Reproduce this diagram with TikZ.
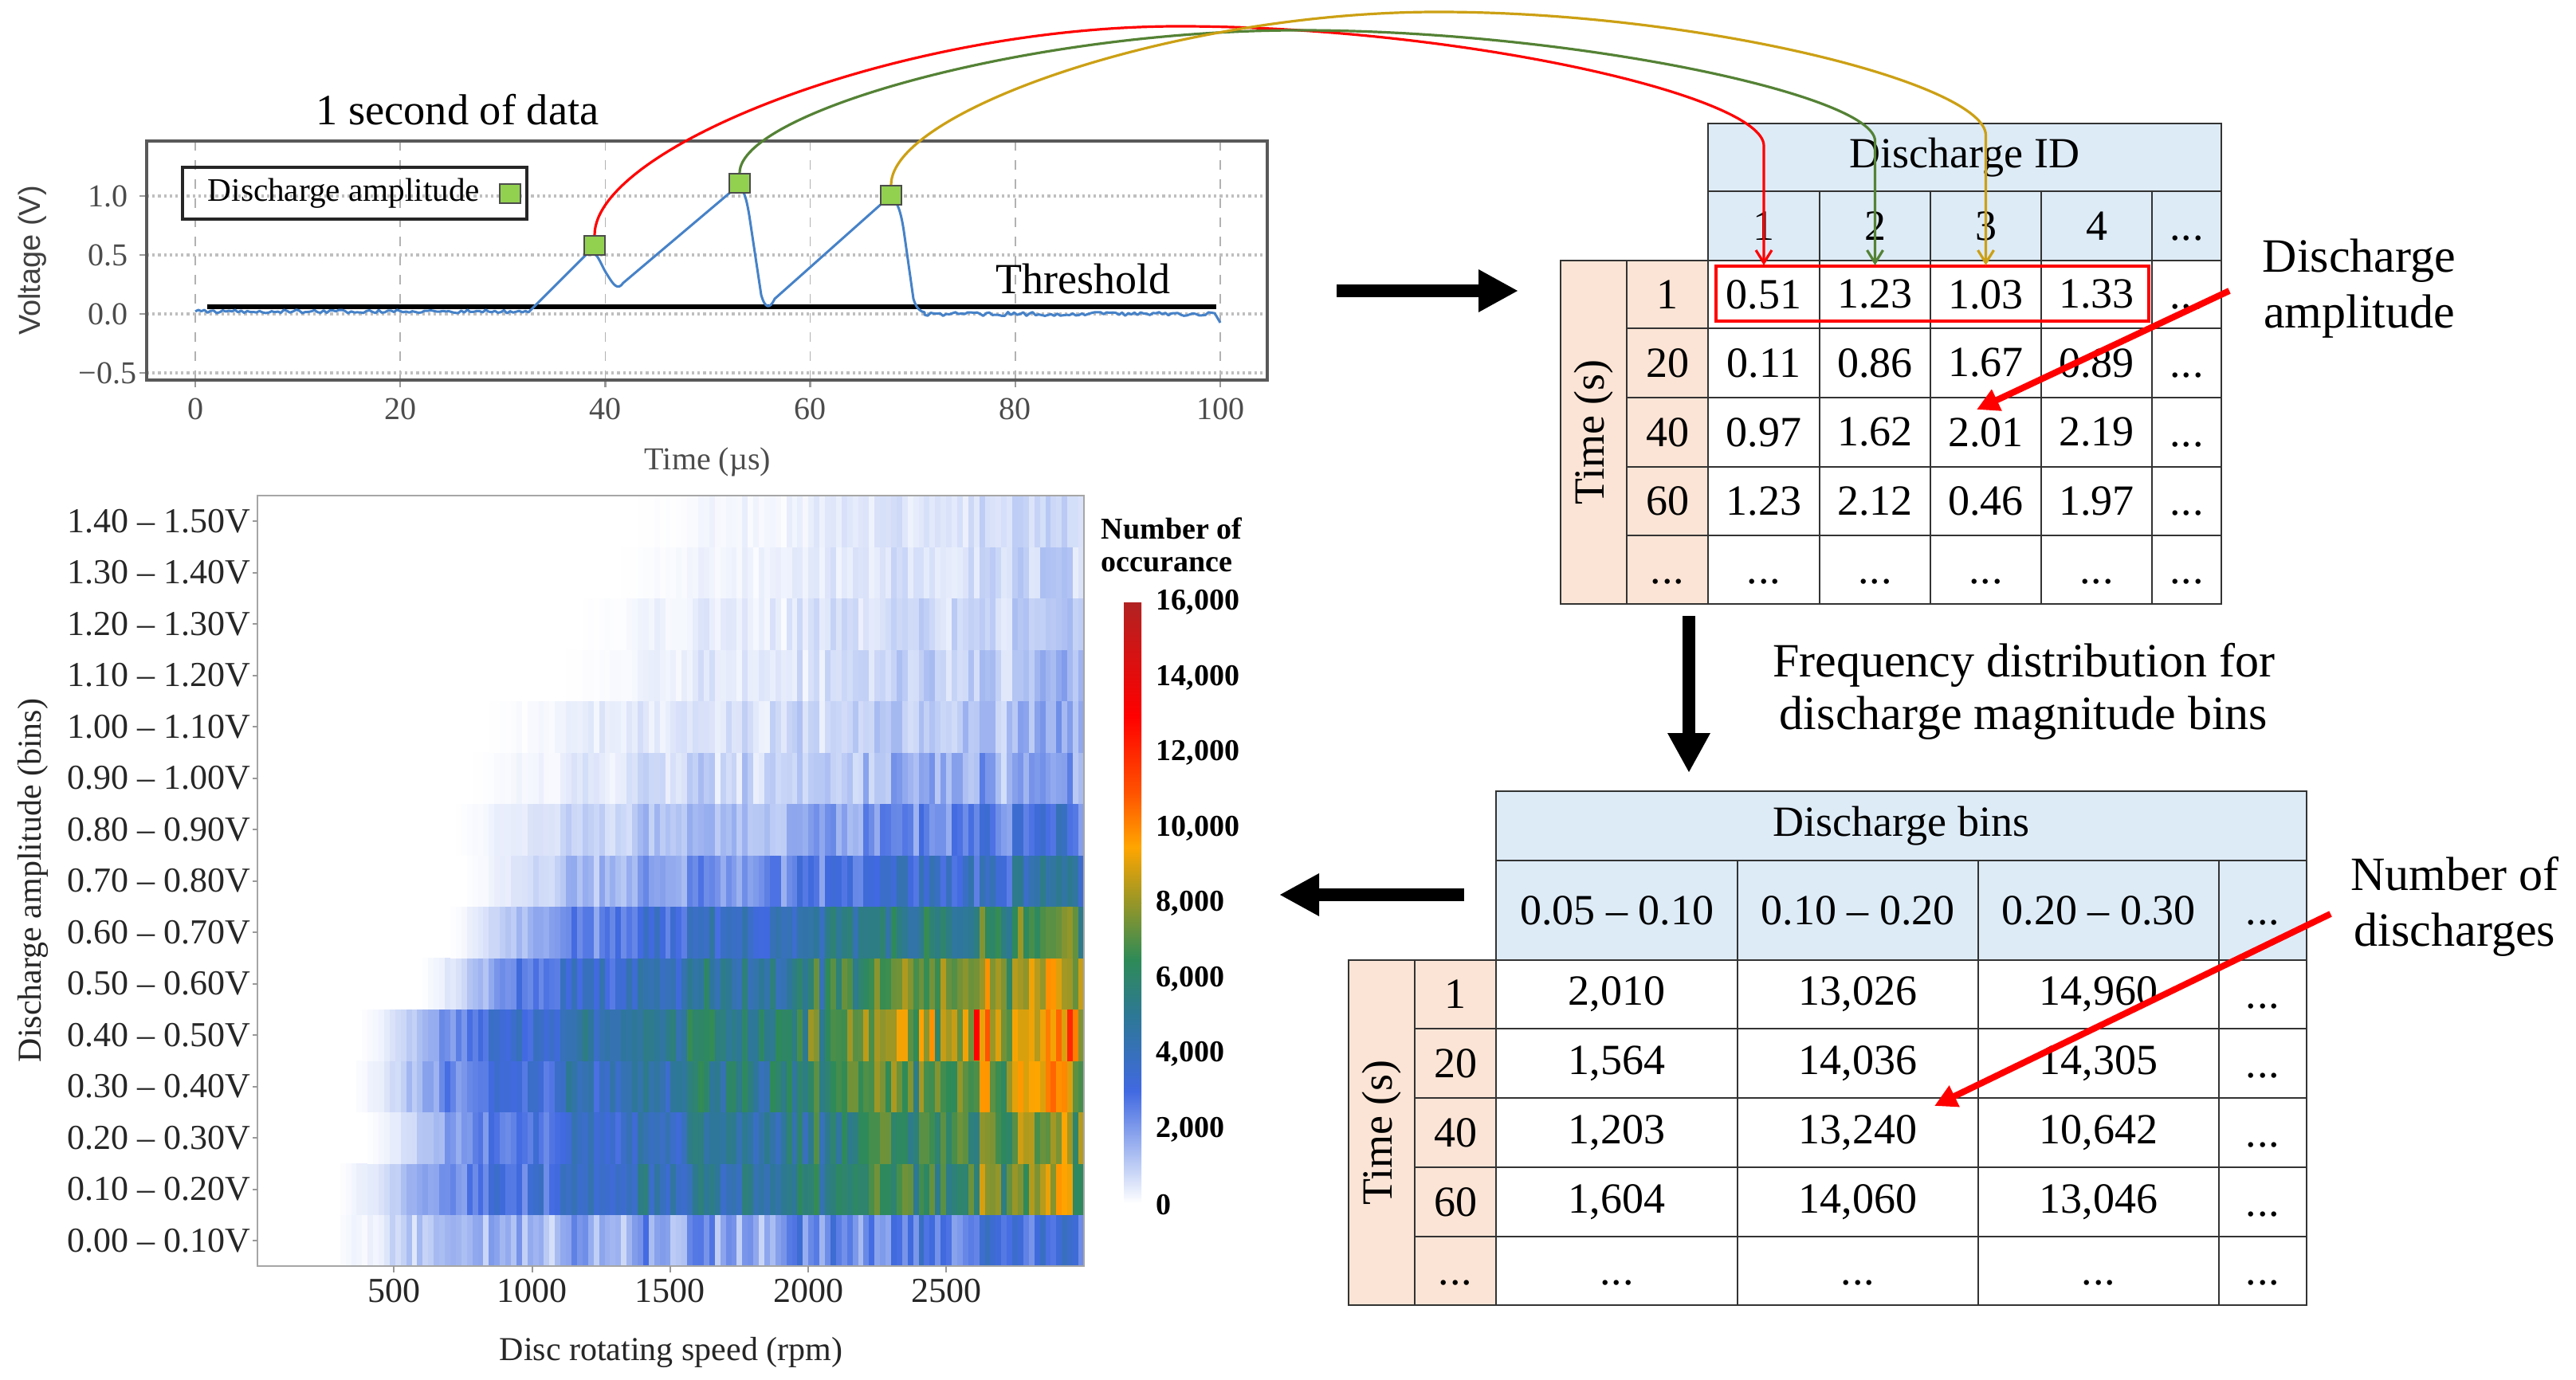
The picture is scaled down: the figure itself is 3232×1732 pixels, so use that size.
\documentclass[tikz,border=0pt]{standalone}
\usepackage{fontspec}
\setmainfont{Liberation Serif}
\setsansfont{Liberation Sans}
\usetikzlibrary{arrows.meta,calc}

\definecolor{salmon}{RGB}{251,228,213}
\definecolor{hdrblue}{RGB}{221,235,247}
\definecolor{sigblue}{RGB}{70,130,200}
\definecolor{mkgreen}{RGB}{146,208,80}
\definecolor{cgreen}{RGB}{84,130,53}
\definecolor{cgold}{RGB}{204,160,20}
\definecolor{hma}{RGB}{190,205,245}
\definecolor{hmb}{RGB}{65,105,225}
\definecolor{hmc}{RGB}{45,120,150}
\definecolor{hmd}{RGB}{46,139,87}
\definecolor{hme}{RGB}{150,150,40}
\definecolor{hmf}{RGB}{255,165,0}
\definecolor{hmg}{RGB}{255,80,0}
\definecolor{hmh}{RGB}{255,0,0}
\definecolor{hmi}{RGB}{178,34,34}

\newcommand\fsz[2]{\fontsize{#1}{#2}\selectfont}
\newcommand\ddd{\vphantom{0}.\kern0.02em.\kern0.02em.}

\newcommand\hmcolor[1]{%
  \pgfmathsetmacro\hmx{min(max(#1,0),15.99)}%
  \ifdim\hmx pt<1pt
    \pgfmathtruncatemacro\hmp{\hmx*100}\colorlet{hc}{hma!\hmp!white}%
  \else\ifdim\hmx pt<3pt
    \pgfmathtruncatemacro\hmp{(\hmx-1)/2*100}\colorlet{hc}{hmb!\hmp!hma}%
  \else\ifdim\hmx pt<5pt
    \pgfmathtruncatemacro\hmp{(\hmx-3)/2*100}\colorlet{hc}{hmc!\hmp!hmb}%
  \else\ifdim\hmx pt<6.5pt
    \pgfmathtruncatemacro\hmp{(\hmx-5)/1.5*100}\colorlet{hc}{hmd!\hmp!hmc}%
  \else\ifdim\hmx pt<8pt
    \pgfmathtruncatemacro\hmp{(\hmx-6.5)/1.5*100}\colorlet{hc}{hme!\hmp!hmd}%
  \else\ifdim\hmx pt<9.5pt
    \pgfmathtruncatemacro\hmp{(\hmx-8)/1.5*100}\colorlet{hc}{hmf!\hmp!hme}%
  \else\ifdim\hmx pt<11pt
    \pgfmathtruncatemacro\hmp{(\hmx-9.5)/1.5*100}\colorlet{hc}{hmg!\hmp!hmf}%
  \else\ifdim\hmx pt<13pt
    \pgfmathtruncatemacro\hmp{(\hmx-11)/2*100}\colorlet{hc}{hmh!\hmp!hmg}%
  \else
    \pgfmathtruncatemacro\hmp{(\hmx-13)/3*100}\colorlet{hc}{hmi!\hmp!hmh}%
  \fi\fi\fi\fi\fi\fi\fi\fi}

% cell: name, x1, y1, x2, y2, style, text
\newcommand\tcell[7]{%
  \pgfmathsetmacro\tcw{((#4)-(#2))*0.25}%
  \pgfmathsetmacro\tch{((#5)-(#3))*0.25}%
  \node[#6,minimum width=\tcw pt,minimum height=\tch pt] (#1) at ({((#2)+(#4))/2},{((#3)+(#5))/2}) {#7};}

\begin{document}
\begin{tikzpicture}[x=0.25pt,y=-0.25pt,
  tab/.style={font=\fsz{13.5}{16}},
  cellb/.style={draw=black!80,line width=0.7pt,inner sep=0pt,outer sep=0pt,tab},
  ann/.style={font=\fsz{15}{17.5},align=center},
  tick/.style={font=\fsz{10}{12},text=black!70},
  hmlab/.style={font=\fsz{11}{13},text=black!85,inner sep=0pt},
  cblab/.style={font=\bfseries\fsz{9.5}{10.25}},
  bigarrow/.style={line width=4pt,-{Triangle[length=12.5pt,width=12.5pt]}},
  ptr/.style={red,line width=2pt,-{Triangle[length=7pt,width=7pt]}},
  curv/.style={line width=0.8pt,-{Straight Barb[length=4pt,width=5pt]}},
  mk/.style={draw=black!70,fill=mkgreen,minimum width=6.5pt,minimum height=6pt,inner sep=0pt,line width=0.5pt}]

\fill[white] (0,0) rectangle (3232,1732);
\useasboundingbox (0,0) rectangle (3232,1732);

% ================= Heatmap =================
\pgfmathsetseed{11}
\foreach \hcol in {0,...,149}{%
  \pgfmathsetmacro\hmcf{rnd}%
  \pgfmathsetmacro\hmrpm{(\hcol+0.5)*20}%
  \pgfmathsetmacro\hxa{323+\hcol*6.913}%
  \pgfmathsetmacro\hxb{\hxa+7.3}%
  \foreach \hr/\hpk/\hst/\hex/\hw in {0/2.8/300/0.4/0.7,1/7.6/300/0.65/0.35,2/7.6/400/0.65/0.35,3/8.4/350/0.65/0.35,4/9.3/380/0.65/0.35,5/8.4/600/0.65/0.35,6/6.6/700/0.65/0.35,7/4.2/750/0.7/0.45,8/2.8/700/0.8/0.6,9/1.8/770/0.8/0.8,10/1.4/830/0.8/0.8,11/1.2/1100/0.8/0.8,12/1.0/1150/0.8/0.85,13/0.8/1270/0.8/0.85,14/0.7/1350/0.8/0.9}{%
    \ifdim\hmrpm pt>\hst pt
      \pgfmathsetmacro\hmg{((\hmrpm-\hst)/(3000-\hst))^\hex*min(1,0.2+(\hmrpm-\hst)/380)}%
      \pgfmathsetmacro\hmv{\hpk*\hmg*(1-\hw+\hw*(\hmcf+rnd))}%
      \hmcolor{\hmv}%
      \pgfmathsetmacro\hya{1589-(\hr+1)*64.47}%
      \pgfmathsetmacro\hyb{\hya+64.9}%
      \fill[hc] (\hxa,\hya) rectangle (\hxb,\hyb);
    \fi
  }%
}
\fill[hmh] (1221.7,1266.6) rectangle (1229,1331.1);
\draw[gray!70,line width=0.5pt] (323,622) rectangle (1360,1589);

\foreach \i/\t in {0/{0.00 – 0.10V},1/{0.10 – 0.20V},2/{0.20 – 0.30V},3/{0.30 – 0.40V},4/{0.40 – 0.50V},5/{0.50 – 0.60V},6/{0.60 – 0.70V},7/{0.70 – 0.80V},8/{0.80 – 0.90V},9/{0.90 – 1.00V},10/{1.00 – 1.10V},11/{1.10 – 1.20V},12/{1.20 – 1.30V},13/{1.30 – 1.40V},14/{1.40 – 1.50V}}{
  \pgfmathsetmacro\yy{1557-\i*64.5}
  \node[hmlab,anchor=east] (yl\i) at (315,\yy) {\t};
  \draw[gray!80,line width=0.5pt] (317,\yy) -- (323,\yy);
}
\foreach \r in {500,1000,1500,2000,2500}{
  \pgfmathsetmacro\xx{321+\r*0.3465}
  \draw[gray!80,line width=0.5pt] (\xx,1589) -- (\xx,1597);
  \node[hmlab] (xl\r) at (\xx,1620) {\r};
}
\node[font=\fsz{10.5}{12},text=black!85] (hmx) at (842,1697) {Disc rotating speed (rpm)};
\node[font=\fsz{10.5}{12},text=black!85,rotate=90] (hmy) at (41,1105) {Discharge amplitude (bins)};

% colorbar
\foreach \va/\vb/\ca/\cb in {0/1/white/hma,1/3/hma/hmb,3/5/hmb/hmc,5/6.5/hmc/hmd,6.5/8/hmd/hme,8/9.5/hme/hmf,9.5/11/hmf/hmg,11/13/hmg/hmh,13/16/hmh/hmi}{
  \shade[bottom color=\ca,top color=\cb] (1410,{1510-\va*47.1}) rectangle (1432,{1510-\vb*47.1+0.5});
}
\foreach \k/\t in {0/0,1/{2,000},2/{4,000},3/{6,000},4/{8,000},5/{10,000},6/{12,000},7/{14,000},8/{16,000}}{
  \node[cblab,anchor=west,inner sep=0pt] (cb\k) at (1450,{1512-\k*94.5}) {\t};
}
\node[cblab,anchor=west,align=left,inner sep=0pt] (cbt) at (1381,684) {Number of\\occurance};

% ================= Signal plot =================
\foreach \t in {0,20,40,60,80,100}{
  \pgfmathsetmacro\xx{245+\t*12.86}
  \draw[gray!60,dashed,line width=0.4pt] (\xx,177) -- (\xx,477);
  \draw[gray!80,line width=0.6pt] (\xx,477) -- (\xx,486);
  \node[tick] (sx\t) at (\xx,513) {\t};
}
\foreach \v/\t in {-0.5/{−0.5},0/{0.0},0.5/{0.5},1/{1.0}}{
  \pgfmathsetmacro\yy{394-\v*148}
  \draw[gray!50,densely dotted,line width=0.8pt] (184,\yy) -- (1590,\yy);
  \draw[gray!80,line width=0.6pt] (175,\yy) -- (184,\yy);
  \node[tick] (sy\v) at (135,\yy) {\t};
}
\draw[gray!70!black,line width=1pt] (184,177) rectangle (1590,477);
\node[font=\sffamily\fsz{9.5}{11},text=black!75,rotate=90] (sylab) at (41,327) {Voltage (V)};
\node[tick] (sxlab) at (888,580) {Time (µs)};
\node[font=\fsz{13.6}{16}] (title) at (574,138) {1 second of data};

% threshold
\draw[black,line width=1.5pt] (260,385) -- (1526,385);
\node[font=\fsz{13.5}{16}] (thr) at (1359,350) {Threshold};

% signal
\pgfmathsetseed{5}
\draw[sigblue,line width=0.75pt,line join=round]
  plot[domain=245:663,samples=110] (\x,{391+2.2*rand})
  -- (735,320) .. controls (748,308) and (752,330) .. (762,345)
  .. controls (770,358) and (775,365) .. (782,355)
  -- (918,240) .. controls (930,228) and (935,240) .. (940,270)
  -- (955,370) .. controls (960,388) and (966,388) .. (972,375)
  -- (1108,254) .. controls (1120,244) and (1128,250) .. (1134,290)
  -- (1146,375) .. controls (1150,388) and (1155,391) .. (1160,392)
  -- plot[domain=1160:1524,samples=95] (\x,{394+2.5*rand})
  -- (1531,405);

% legend
\draw[black!85,line width=0.8pt] (229,210) rectangle (661,275);
\node[font=\fsz{10.3}{12},anchor=west,inner sep=0pt] (legt) at (260,243) {Discharge amplitude};
\node[mk] (legm) at (640,243) {};

% markers
\node[mk] (m1) at (746,308) {};
\node[mk] (m2) at (928,230) {};
\node[mk] (m3) at (1118,245) {};

% ================= Table 1 =================
\tcell{ah}{2143}{155}{2787}{240}{cellb,fill=hdrblue}{Discharge ID}
\foreach \j/\xa/\xb/\t in {1/2143/2283/1,2/2283/2422/2,3/2422/2561/3,4/2561/2700/4,5/2700/2787/\ddd}{
  \tcell{ah\j}{\xa}{240}{\xb}{327}{cellb,fill=hdrblue}{\t}
}
\tcell{at}{1958}{327}{2041}{758}{cellb,fill=salmon}{}
\node[tab,rotate=90] (atl) at (at.center) {Time (s)};
\foreach \ri/\ya/\yb/\lab/\va/\vb/\vc/\vd/\ve in {1/327/412/1/0.51/1.23/1.03/1.33/\ddd,2/412/499/20/0.11/0.86/1.67/0.89/\ddd,3/499/586/40/0.97/1.62/2.01/2.19/\ddd,4/586/672/60/1.23/2.12/0.46/1.97/\ddd,5/672/758/\ddd/\ddd/\ddd/\ddd/\ddd/\ddd}{
  \tcell{ar\ri}{2041}{\ya}{2143}{\yb}{cellb,fill=salmon}{\lab}
  \tcell{a\ri-1}{2143}{\ya}{2283}{\yb}{cellb}{\va}
  \tcell{a\ri-2}{2283}{\ya}{2422}{\yb}{cellb}{\vb}
  \tcell{a\ri-3}{2422}{\ya}{2561}{\yb}{cellb}{\vc}
  \tcell{a\ri-4}{2561}{\ya}{2700}{\yb}{cellb}{\vd}
  \tcell{a\ri-5}{2700}{\ya}{2787}{\yb}{cellb}{\ve}
}
\draw[red,line width=0.8pt] (2153,334) rectangle (2696,403);

% ================= Table 2 =================
\tcell{bh}{1877}{993}{2894}{1080}{cellb,fill=hdrblue}{Discharge bins}
\foreach \j/\xa/\xb/\t in {1/1877/2180/{0.05 – 0.10},2/2180/2482/{0.10 – 0.20},3/2482/2784/{0.20 – 0.30},4/2784/2894/\ddd}{
  \tcell{bh\j}{\xa}{1080}{\xb}{1205}{cellb,fill=hdrblue}{\t}
}
\tcell{bt}{1692}{1205}{1775}{1638}{cellb,fill=salmon}{}
\node[tab,rotate=90] (btl) at (bt.center) {Time (s)};
\foreach \ri/\ya/\yb/\lab/\va/\vb/\vc/\vd in {1/1205/1291/1/{2,010}/{13,026}/{14,960}/\ddd,2/1291/1378/20/{1,564}/{14,036}/{14,305}/\ddd,3/1378/1465/40/{1,203}/{13,240}/{10,642}/\ddd,4/1465/1552/60/{1,604}/{14,060}/{13,046}/\ddd,5/1552/1638/\ddd/\ddd/\ddd/\ddd/\ddd}{
  \tcell{br\ri}{1775}{\ya}{1877}{\yb}{cellb,fill=salmon}{\lab}
  \tcell{b\ri-1}{1877}{\ya}{2180}{\yb}{cellb}{\va}
  \tcell{b\ri-2}{2180}{\ya}{2482}{\yb}{cellb}{\vb}
  \tcell{b\ri-3}{2482}{\ya}{2784}{\yb}{cellb}{\vc}
  \tcell{b\ri-4}{2784}{\ya}{2894}{\yb}{cellb}{\vd}
}

% ================= Curved connectors =================
\coordinate (rtop) at (1479,33);
\coordinate (gtop) at (1630,38);
\coordinate (ytop) at (1804,15);
\draw[curv,red] (m1.north) .. controls +(0,-110) and +(-350,0) .. (rtop)
  .. controls +(350,0) and +(0,-63) .. ($(a1-1.north)+(0,-144)$) -- ($(a1-1.north)+(0,6)$);
\draw[curv,cgreen] (m2.north) .. controls +(0,-76) and +(-340,0) .. (gtop)
  .. controls +(340,0) and +(0,-58) .. ($(a1-2.north)+(0,-150)$) -- ($(a1-2.north)+(0,6)$);
\draw[curv,cgold] (m3.north) .. controls +(0,-92) and +(-330,0) .. (ytop)
  .. controls +(330,0) and +(0,-65) .. ($(a1-3.north)+(0,-157)$) -- ($(a1-3.north)+(0,6)$);

% ================= Big arrows =================
\coordinate (r1s) at (1677,365); \coordinate (r1e) at (1905,365);
\draw[bigarrow] (r1s) -- (r1e);
\coordinate (d1s) at (2119,773); \coordinate (d1e) at (2119,970);
\draw[bigarrow] (d1s) -- (d1e);
\coordinate (l1s) at (1837,1123); \coordinate (l1e) at (1605,1123);
\draw[bigarrow] (l1s) -- (l1e);

\node[ann,font=\fsz{15}{16.5}] (freq) at (2539,868) {Frequency distribution for\\discharge magnitude bins};

% ================= Annotations =================
\node[ann] (lab1) at (2960,362) {Discharge\\amplitude};
\node[ann] (lab2) at (3080,1138) {Number of\\discharges};
\coordinate (p1s) at (2797,365); \coordinate (p1e) at (2480,514);
\draw[ptr] (p1s) -- (p1e);
\coordinate (p2s) at (2924,1147); \coordinate (p2e) at (2427,1388);
\draw[ptr] (p2s) -- (p2e);

\end{tikzpicture}
\end{document}
